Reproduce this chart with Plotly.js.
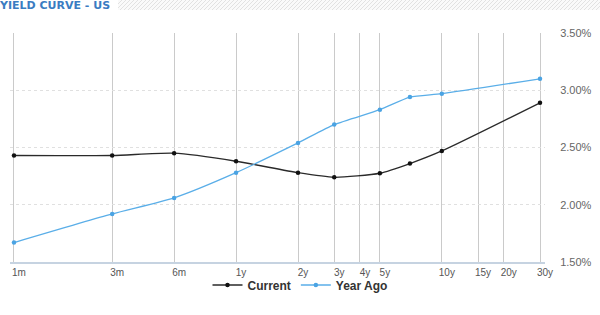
<!DOCTYPE html>
<html>
<head>
<meta charset="utf-8">
<script src="https://cdn.plot.ly/plotly-3.0.1.min.js"></script>
<style>html,body{margin:0;padding:0;background:#fff;}#chart{width:600px;height:315px;}</style>
</head>
<body>
<div id="chart"></div>
<script>
// Maturities in months
var maturities = [1, 3, 6, 12, 24, 36, 60, 84, 120, 360];
var current = [2.43, 2.43, 2.45, 2.38, 2.28, 2.24, 2.275, 2.36, 2.47, 2.89];
var yearAgo = [1.67, 1.92, 2.06, 2.28, 2.54, 2.70, 2.83, 2.94, 2.97, 3.10];
var tickMonths = [1, 3, 6, 12, 24, 36, 48, 60, 120, 180, 240, 360];
var tickLabels = ['1m', '3m', '6m', '1y', '2y', '3y', '4y', '5y', '10y', '15y', '20y', '30y'];
var yTicks = [1.5, 2.0, 2.5, 3.0, 3.5];
var yTickLabels = ['1.50%', '2.00%', '2.50%', '3.00%', '3.50%'];

// pixel -> paper helpers (plot area: x 10..545, y 33..262)
var L = 10, R = 545, T = 33, B = 262;
function px(x) { return (x - L) / (R - L); }
function py(y) { return (B - y) / (B - T); }

var shapes = [];
// hatched header band
var hx0 = 118, hx1 = 600, hy0 = 0, hy1 = 10;
shapes.push({type: 'rect', xref: 'paper', yref: 'paper', x0: px(hx0), x1: px(hx1), y0: py(hy1), y1: py(hy0),
  fillcolor: '#fafafa', line: {width: 0}, layer: 'below'});
for (var s = hx0 - 10; s < hx1; s += 4) {
  var xa = s, ya = hy1, xb = s + 10, yb = hy0;
  if (xa < hx0) { ya = hy1 - (hx0 - xa); xa = hx0; }
  if (xb > hx1) { yb = hy0 + (xb - hx1); xb = hx1; }
  if (xb <= xa) continue;
  shapes.push({type: 'line', xref: 'paper', yref: 'paper', x0: px(xa), y0: py(ya), x1: px(xb), y1: py(yb),
    line: {color: '#e2e2e2', width: 1}, layer: 'below'});
}

var traces = [
  {x: maturities, y: current, name: 'Current', type: 'scatter', mode: 'lines+markers',
   line: {color: '#2a2a2a', width: 1.3, shape: 'spline', smoothing: 0.6},
   marker: {color: '#111', size: 4.5}},
  {x: maturities, y: yearAgo, name: 'Year Ago', type: 'scatter', mode: 'lines+markers',
   line: {color: '#5aaee8', width: 1.3, shape: 'spline', smoothing: 0.6},
   marker: {color: '#4aa3e3', size: 4.5}}
];

var layout = {
  width: 600, height: 315,
  margin: {l: L, r: 600 - R, t: T, b: 315 - B},
  paper_bgcolor: '#fff', plot_bgcolor: '#fff',
  font: {family: 'Liberation Sans, Arial, sans-serif', color: '#555'},
  title: {text: 'YIELD CURVE - US', xref: 'container', yref: 'container', x: 0, xanchor: 'left',
    y: 1 - 5.5 / 315, yanchor: 'middle', pad: {l: 0, t: 0},
    font: {family: 'DejaVu Sans, Verdana, sans-serif', size: 11, color: '#3a7cc2', weight: 'bold'}},
  showlegend: true,
  legend: {orientation: 'h', xref: 'container', yref: 'container', x: 0.5, xanchor: 'center',
    y: 1 - 285 / 315, yanchor: 'middle', itemwidth: 30, bgcolor: 'rgba(0,0,0,0)',
    font: {family: 'Liberation Sans, Arial, sans-serif', size: 12, color: '#333', weight: 'bold'}},
  xaxis: {type: 'log', range: [Math.log10(1) - 0.0194, Math.log10(360) + 0.0243],
    tickmode: 'array', tickvals: tickMonths, ticktext: tickLabels,
    ticklabelshift: 5,
    showgrid: true, gridcolor: '#cacaca', gridwidth: 1,
    showline: true, linecolor: '#c6d3e1', linewidth: 2,
    ticks: '', tickfont: {size: 10, color: '#555'}, zeroline: false, fixedrange: true},
  yaxis: {side: 'right', range: [1.5, 3.5], tickmode: 'array', tickvals: yTicks, ticktext: yTickLabels,
    showgrid: true, gridcolor: '#e0e0e0', griddash: 'dot', gridwidth: 1,
    ticks: 'outside', ticklen: 12, tickcolor: 'rgba(0,0,0,0)',
    tickfont: {size: 11, color: '#666'}, zeroline: false, showline: false, fixedrange: true},
  shapes: shapes
};

Plotly.newPlot('chart', traces, layout, {displayModeBar: false, staticPlot: true});
</script>
</body>
</html>
